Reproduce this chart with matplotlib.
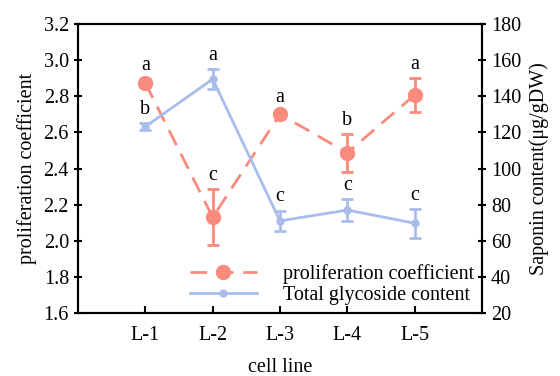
import matplotlib.pyplot as plt
from matplotlib.lines import Line2D

plt.rcParams['font.family'] = ['Liberation Serif', 'DejaVu Serif']

cell_lines = ['L-1', 'L-2', 'L-3', 'L-4', 'L-5']
x = [1, 2, 3, 4, 5]

# proliferation coefficient (left axis)
prolif = [2.873, 2.13, 2.70, 2.487, 2.807]
prolif_err = [0.02, 0.155, 0.02, 0.105, 0.095]
prolif_letters = ['a', 'c', 'a', 'b', 'a']

# total glycoside content (right axis, ug/g DW)
glyco = [123.2, 149.5, 71.0, 77.0, 69.7]
glyco_err = [2.0, 5.5, 5.7, 6.0, 8.0]
glyco_letters = ['b', 'a', 'c', 'c', 'c']

red = '#F98B7C'
blue = '#A8BDEC'
fs = 14.5

fig = plt.figure(figsize=(5.6, 3.76), dpi=100)
ax = fig.add_axes([78/560, 1 - 313/376, 404/560, 289/376])
ax2 = ax.twinx()

l1 = ax.errorbar(x, prolif, yerr=prolif_err, color=red, lw=2, dashes=(6, 3.5),
                 marker='o', ms=10, capsize=4, capthick=2, elinewidth=2, zorder=3)
l1[-1][0].set_linestyle('-')
ax2.errorbar(x, glyco, yerr=glyco_err, color=blue, lw=2,
             marker='o', ms=5, capsize=4, capthick=2, elinewidth=2, zorder=2)

for xi, v, e, t in zip(x, prolif, prolif_err, prolif_letters):
    ax.annotate(t, (xi, v + e), xytext=(0, 3), textcoords='offset points',
                ha='center', va='bottom', fontsize=fs)
for xi, v, e, t in zip(x, glyco, glyco_err, glyco_letters):
    ax2.annotate(t, (xi, v + e), xytext=(0, 3), textcoords='offset points',
                 ha='center', va='bottom', fontsize=fs)

ax.set_xlim(0, 6)
ax.set_ylim(1.6, 3.2)
ax.set_yticks([1.6, 1.8, 2.0, 2.2, 2.4, 2.6, 2.8, 3.0, 3.2])
ax.set_yticklabels(['1.6', '1.8', '2.0', '2.2', '2.4', '2.6', '2.8', '3.0', '3.2'])
ax.set_xticks(x)
ax.set_xticklabels(cell_lines)
ax2.set_ylim(20, 180)
ax2.set_yticks(range(20, 181, 20))

ax.set_xlabel('cell line', fontsize=fs, labelpad=10)
ax.set_ylabel('proliferation coefficient', fontsize=fs, labelpad=5)
ax2.set_ylabel('Saponin content(\u03bcg/gDW)', fontsize=fs, labelpad=6)

ax.tick_params(axis='x', direction='in', length=5, width=1.5, labelsize=fs, pad=9)
ax.tick_params(axis='y', direction='inout', length=6, width=1.5, labelsize=fs)
ax2.tick_params(axis='y', direction='inout', length=6, width=1.5, labelsize=fs)
for a in (ax, ax2):
    for s in a.spines.values():
        s.set_linewidth(1.5)

handles = [
    Line2D([], [], color=red, lw=2, dashes=(6, 3.5), marker='o', ms=10),
    Line2D([], [], color=blue, lw=2, marker='o', ms=5),
]
labels = ['proliferation coefficient', 'Total glycoside content']
ax2.legend(handles, labels, loc='lower right',
           bbox_to_anchor=(1.01, -0.015), frameon=False, fontsize=fs,
           handlelength=3.3, handletextpad=1.3, labelspacing=0.1, borderaxespad=0.2)

fig.savefig('out.png', dpi=100)
